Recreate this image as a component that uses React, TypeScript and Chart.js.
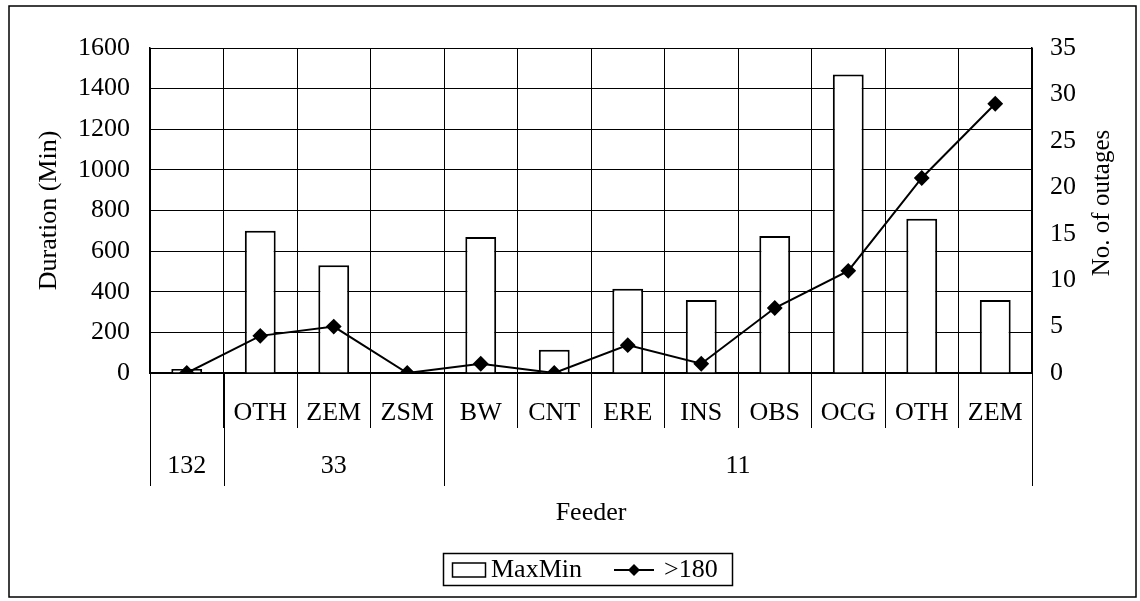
import React, { useEffect, useRef } from "react";
import { Chart, registerables } from "chart.js";

Chart.register(...registerables);

const subLabels = ["", "OTH", "ZEM", "ZSM", "BW", "CNT", "ERE", "INS", "OBS", "OCG", "OTH", "ZEM"];
const groupLabels = ["132", "33", "11"];
const groupSizes = [1, 3, 8];
const maxMinValues = [20, 700, 530, 0, 670, 115, 415, 360, 675, 1470, 760, 360];
const outageCounts = [0, 4, 5, 0, 1, 0, 3, 1, 7, 11, 21, 29];
const seriesNames = ["MaxMin", ">180"];
const leftAxis = { min: 0, max: 1600, step: 200, title: "Duration (Min)" };
const rightAxis = { min: 0, max: 35, step: 5, title: "No. of outages" };
const xTitle = "Feeder";

const FONT = "'Liberation Serif', 'Times New Roman', serif";
const FS = 26;

const frameAndLabels = {
  id: "frameAndLabels",
  afterDraw(chart: any) {
    const ctx = chart.ctx;
    const x = chart.scales.x;
    const area = chart.chartArea;
    const half = (x.getPixelForValue(1) - x.getPixelForValue(0)) / 2;
    ctx.save();
    ctx.fillStyle = "#000";
    ctx.strokeStyle = "#000";
    ctx.font = `${FS}px ${FONT}`;
    ctx.textAlign = "center";
    ctx.textBaseline = "middle";
    // row 1: sub labels
    subLabels.forEach((lab, i) => {
      if (lab) ctx.fillText(lab, x.getPixelForValue(i), 413);
    });
    // row 2: group labels + separators
    let start = 0;
    ctx.lineWidth = 1;
    const bounds: number[] = [0];
    groupLabels.forEach((g, gi) => {
      const end = start + groupSizes[gi] - 1;
      const cx = (x.getPixelForValue(start) + x.getPixelForValue(end)) / 2;
      ctx.fillText(g, cx, 466);
      start = end + 1;
      bounds.push(start);
    });
    bounds.forEach((b) => {
      const px = Math.round(x.getPixelForValue(b) - half) + 0.5;
      ctx.beginPath();
      ctx.moveTo(px, area.bottom);
      ctx.lineTo(px, 486);
      ctx.stroke();
    });
    // right axis title (reads bottom-to-top)
    ctx.save();
    ctx.font = `25px ${FONT}`;
    ctx.translate(1102, 203);
    ctx.rotate(-Math.PI / 2);
    ctx.textAlign = "center";
    ctx.fillText(rightAxis.title, 0, 0);
    ctx.restore();
    // legend
    const barDs = chart.data.datasets.find((d: any) => d.type === "bar");
    const lineDs = chart.data.datasets.find((d: any) => d.type === "line");
    const lx = 443, ly = 553, lw = 289, lh = 32;
    ctx.lineWidth = 1.5;
    ctx.strokeRect(lx + 0.5, ly + 0.5, lw, lh);
    const cy = ly + lh / 2 + 1;
    ctx.fillStyle = "#fff";
    ctx.fillRect(452, cy - 7, 33, 14);
    ctx.strokeRect(452.5, cy - 7, 33, 14);
    ctx.fillStyle = "#000";
    ctx.textAlign = "left";
    ctx.fillText(barDs.label, 491, cy);
    ctx.lineWidth = 2;
    ctx.beginPath();
    ctx.moveTo(614, cy);
    ctx.lineTo(654, cy);
    ctx.stroke();
    ctx.beginPath();
    ctx.moveTo(634, cy - 6);
    ctx.lineTo(640, cy);
    ctx.lineTo(634, cy + 6);
    ctx.lineTo(628, cy);
    ctx.closePath();
    ctx.fill();
    ctx.fillText(lineDs.label, 664, cy);
    // outer frame
    ctx.lineWidth = 1.5;
    ctx.strokeRect(9, 6, 1127, 591);
    ctx.restore();
  },
};

export default function App() {
  const ref = useRef<HTMLCanvasElement>(null);
  useEffect(() => {
    if (!ref.current) return;
    Chart.defaults.font.family = FONT;
    Chart.defaults.font.size = FS;
    Chart.defaults.color = "#000";
    const plain = (v: any) => String(v);
    const chart = new Chart(ref.current, {
      type: "bar",
      data: {
        labels: subLabels,
        datasets: [
          {
            type: "line",
            label: seriesNames[1],
            data: outageCounts,
            yAxisID: "y1",
            borderColor: "#000",
            backgroundColor: "#000",
            borderWidth: 2,
            pointStyle: "rectRot",
            pointRadius: 6.5,
            pointBackgroundColor: "#000",
            pointBorderColor: "#000",
            tension: 0,
            order: 0,
          } as any,
          {
            type: "bar",
            label: seriesNames[0],
            data: maxMinValues,
            yAxisID: "y",
            backgroundColor: "#fff",
            borderColor: "#000",
            borderWidth: 2,
            barPercentage: 0.42,
            categoryPercentage: 1,
            order: 1,
          } as any,
        ],
      },
      options: {
        responsive: false,
        animation: false,
        devicePixelRatio: 1,
        layout: { padding: { top: 48, left: 0, right: 0, bottom: 0 } },
        plugins: { legend: { display: false }, tooltip: { enabled: false } },
        scales: {
          x: {
            type: "category",
            offset: true,
            grid: {
              offset: true,
              color: "#000",
              lineWidth: 1,
              drawTicks: true,
              tickLength: 55,
              tickColor: "#000",
            },
            border: { display: true, color: "#000", width: 1.5 },
            ticks: { display: false },
            title: {
              display: true,
              text: xTitle,
              font: { size: FS, family: FONT },
              padding: { top: 0, bottom: 72 },
            },
            afterFit: (s: any) => {
              s.height = 228;
            },
          },
          y: {
            position: "left",
            min: leftAxis.min,
            max: leftAxis.max,
            ticks: { stepSize: leftAxis.step, padding: 20, callback: plain, font: { size: FS, family: FONT } },
            grid: { color: "#000", lineWidth: 1, drawTicks: false },
            border: { display: true, color: "#000", width: 1.5 },
            title: {
              display: true,
              text: leftAxis.title,
              font: { size: FS, family: FONT },
              padding: { top: 34, bottom: 0 },
            },
            afterFit: (s: any) => {
              s.width = 150;
            },
          },
          y1: {
            position: "right",
            min: rightAxis.min,
            max: rightAxis.max,
            ticks: { stepSize: rightAxis.step, padding: 18, callback: plain, font: { size: FS, family: FONT } },
            grid: { drawOnChartArea: false, drawTicks: false },
            border: { display: true, color: "#000", width: 1.5 },
            title: { display: false },
            afterFit: (s: any) => {
              s.width = 108;
            },
          },
        },
      },
      plugins: [frameAndLabels],
    });
    return () => chart.destroy();
  }, []);
  return (
    <canvas
      ref={ref}
      width={1140}
      height={601}
      style={{ position: "fixed", left: 0, top: 0, background: "#fff" }}
    />
  );
}
